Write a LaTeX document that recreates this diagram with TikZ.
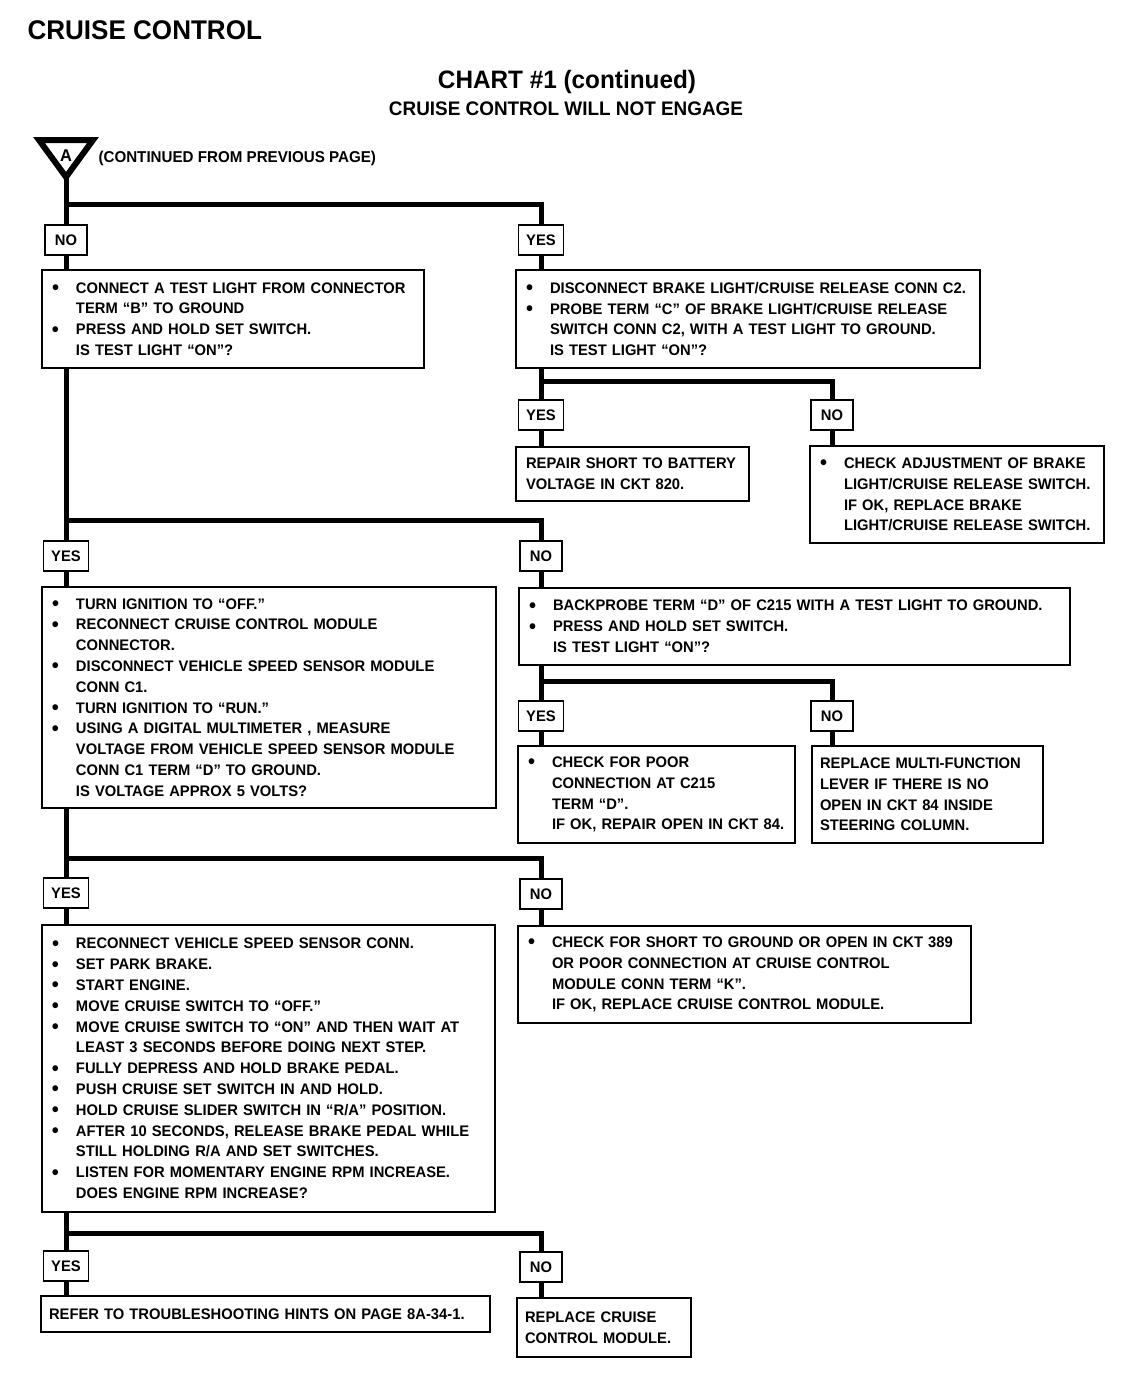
\documentclass[tikz,border=0pt]{standalone}
\usepackage{graphicx}
\usepackage{fontspec}
\setmainfont{Liberation Sans}[FakeStretch=0.965]
\newcommand\bdot{\raisebox{-1.4pt}{\scalebox{1.35}{•}}}
\newcommand\bu[1]{\mbox{\makebox[24pt][l]{\bdot}#1}}
\newcommand\cn[1]{\mbox{\hspace*{24pt}#1}}
\newcommand\pl[1]{\mbox{#1}}
\begin{document}
\begin{tikzpicture}[x=1pt,y=-1pt,
  every node/.style={font=\bfseries\fontsize{15.3}{20.8}\selectfont},
  box/.style={draw, line width=1.6pt, fill=white, inner xsep=10pt, inner ysep=0pt, align=left},
  lab/.style={draw, line width=1.6pt, fill=white, inner sep=0pt, minimum height=30pt},
  yesb/.style={lab, minimum width=45pt},
  nob/.style={lab, minimum width=42pt},
  conn/.style={line width=5pt, line join=miter}]
\useasboundingbox[fill=white] (0,0) rectangle (1136,1392);

% titles
\node[anchor=base west, font=\bfseries\fontsize{27}{30}\selectfont] (title) at (24,39) {CRUISE CONTROL};
\node[anchor=base, font=\bfseries\fontsize{25.2}{28}\selectfont] (chart) at (567,88) {CHART \#1 (continued)};
\node[anchor=base, font=\bfseries\fontsize{19.6}{22}\selectfont] (sub) at (566,115) {CRUISE CONTROL WILL NOT ENGAGE};

% start triangle
\draw[line width=6pt, line join=miter] (39,140) -- (93,140) -- (66,177) -- cycle;
\node[font=\bfseries\fontsize{17}{18}\selectfont] (tri) at (66,156) {A};
\coordinate (apex) at (66,177);
\node[anchor=base west, font=\bfseries\fontsize{15.7}{18}\selectfont] (cont) at (95,162) {(CONTINUED FROM PREVIOUS PAGE)};

% labels
\node[nob]  (no1)  at (66,240) {NO};
\node[yesb] (yes1) at (541,240) {YES};
\node[yesb] (yes3) at (541,415) {YES};
\node[nob]  (no3)  at (832,415) {NO};
\node[yesb] (yes4) at (66,556) {YES};
\node[nob]  (no4)  at (541,556) {NO};
\node[yesb] (yes5) at (541,716) {YES};
\node[nob]  (no5)  at (832,716) {NO};
\node[yesb] (yes6) at (66,893) {YES};
\node[nob]  (no6)  at (541,894) {NO};
\node[yesb] (yes7) at (66,1266) {YES};
\node[nob]  (no7)  at (541,1267) {NO};

% boxes
\node[box, minimum width=382pt, minimum height=98pt, text width=362pt] (b1) at (233,319) {%
\bu{CONNECT A TEST LIGHT FROM CONNECTOR}\\
\cn{TERM “B” TO GROUND}\\
\bu{PRESS AND HOLD SET SWITCH.}\\
\cn{IS TEST LIGHT “ON”?}};

\node[box, minimum width=464pt, minimum height=98pt, text width=444pt] (b2) at (748,319) {%
\bu{DISCONNECT BRAKE LIGHT/CRUISE RELEASE CONN C2.}\\
\bu{PROBE TERM “C” OF BRAKE LIGHT/CRUISE RELEASE}\\
\cn{SWITCH CONN C2, WITH A TEST LIGHT TO GROUND.}\\
\cn{IS TEST LIGHT “ON”?}};

\node[box, minimum width=233pt, minimum height=54pt, text width=213pt] (b3) at (632.5,474) {%
\pl{REPAIR SHORT TO BATTERY}\\
\pl{VOLTAGE IN CKT 820.}};

\node[box, minimum width=294pt, minimum height=97pt, text width=274pt] (b4) at (957,494.5) {%
\bu{CHECK ADJUSTMENT OF BRAKE}\\
\cn{LIGHT/CRUISE RELEASE SWITCH.}\\
\cn{IF OK, REPLACE BRAKE}\\
\cn{LIGHT/CRUISE RELEASE SWITCH.}};

\node[box, minimum width=454pt, minimum height=221pt, text width=434pt] (b5) at (269,697.5) {%
\bu{TURN IGNITION TO “OFF.”}\\
\bu{RECONNECT CRUISE CONTROL MODULE}\\
\cn{CONNECTOR.}\\
\bu{DISCONNECT VEHICLE SPEED SENSOR MODULE}\\
\cn{CONN C1.}\\
\bu{TURN IGNITION TO “RUN.”}\\
\bu{USING A DIGITAL MULTIMETER , MEASURE}\\
\cn{VOLTAGE FROM VEHICLE SPEED SENSOR MODULE}\\
\cn{CONN C1 TERM “D” TO GROUND.}\\
\cn{IS VOLTAGE APPROX 5 VOLTS?}};

\node[box, minimum width=551pt, minimum height=77pt, text width=531pt] (b6) at (794.5,626.5) {%
\bu{BACKPROBE TERM “D” OF C215 WITH A TEST LIGHT TO GROUND.}\\
\bu{PRESS AND HOLD SET SWITCH.}\\
\cn{IS TEST LIGHT “ON”?}};

\node[box, minimum width=277pt, minimum height=97pt, text width=257pt] (b7) at (656.5,794.5) {%
\bu{CHECK FOR POOR}\\
\cn{CONNECTION AT C215}\\
\cn{TERM “D”.}\\
\cn{IF OK, REPAIR OPEN IN CKT 84.}};

\node[box, minimum width=231pt, minimum height=97pt, text width=215pt, inner xsep=8pt] (b8) at (927.5,794.5) {%
\pl{REPLACE MULTI-FUNCTION}\\
\pl{LEVER IF THERE IS NO}\\
\pl{OPEN IN CKT 84 INSIDE}\\
\pl{STEERING COLUMN.}};

\node[box, minimum width=453pt, minimum height=287pt, text width=433pt] (b9) at (268.5,1068.5) {%
\bu{RECONNECT VEHICLE SPEED SENSOR CONN.}\\
\bu{SET PARK BRAKE.}\\
\bu{START ENGINE.}\\
\bu{MOVE CRUISE SWITCH TO “OFF.”}\\
\bu{MOVE CRUISE SWITCH TO “ON” AND THEN WAIT AT}\\
\cn{LEAST 3 SECONDS BEFORE DOING NEXT STEP.}\\
\bu{FULLY DEPRESS AND HOLD BRAKE PEDAL.}\\
\bu{PUSH CRUISE SET SWITCH IN AND HOLD.}\\
\bu{HOLD CRUISE SLIDER SWITCH IN “R/A” POSITION.}\\
\bu{AFTER 10 SECONDS, RELEASE BRAKE PEDAL WHILE}\\
\cn{STILL HOLDING R/A AND SET SWITCHES.}\\
\bu{LISTEN FOR MOMENTARY ENGINE RPM INCREASE.}\\
\cn{DOES ENGINE RPM INCREASE?}};

\node[box, minimum width=453pt, minimum height=97pt, text width=433pt] (b10) at (744.5,974.5) {%
\bu{CHECK FOR SHORT TO GROUND OR OPEN IN CKT 389}\\
\cn{OR POOR CONNECTION AT CRUISE CONTROL}\\
\cn{MODULE CONN TERM “K”.}\\
\cn{IF OK, REPLACE CRUISE CONTROL MODULE.}};

\node[box, minimum width=449pt, minimum height=36pt, text width=433pt, inner xsep=8pt] (b11) at (265.5,1314) {%
\pl{REFER TO TROUBLESHOOTING HINTS ON PAGE 8A-34-1.}};

\node[box, minimum width=174pt, minimum height=59pt, text width=158pt, inner xsep=8pt] (b12) at (604,1327.5) {%
\pl{REPLACE CRUISE}\\
\pl{CONTROL MODULE.}};

% connectors
\coordinate (j1) at (66,204);
\coordinate (j2) at (541,381);
\coordinate (j3) at (66,520);
\coordinate (j4) at (541,681);
\coordinate (j5) at (66,858);
\coordinate (j6) at (66,1233);

\draw[conn] (apex) -- (no1.north);
\draw[conn] (j1) -| (yes1.north);
\draw[conn] (no1.south) -- (no1.south |- b1.north);
\draw[conn] (yes1.south) -- (yes1.south |- b2.north);
\draw[conn] (yes1.south |- b2.south) -- (yes3.north);
\draw[conn] (j2) -| (no3.north);
\draw[conn] (yes3.south) -- (yes3.south |- b3.north);
\draw[conn] (no3.south) -- (no3.south |- b4.north);
\draw[conn] (no1.south |- b1.south) -- (yes4.north);
\draw[conn] (j3) -| (no4.north);
\draw[conn] (yes4.south) -- (yes4.south |- b5.north);
\draw[conn] (no4.south) -- (no4.south |- b6.north);
\draw[conn] (no4.south |- b6.south) -- (yes5.north);
\draw[conn] (j4) -| (no5.north);
\draw[conn] (yes5.south) -- (yes5.south |- b7.north);
\draw[conn] (no5.south) -- (no5.south |- b8.north);
\draw[conn] (yes4.south |- b5.south) -- (yes6.north);
\draw[conn] (j5) -| (no6.north);
\draw[conn] (yes6.south) -- (yes6.south |- b9.north);
\draw[conn] (no6.south) -- (no6.south |- b10.north);
\draw[conn] (yes6.south |- b9.south) -- (yes7.north);
\draw[conn] (j6) -| (no7.north);
\draw[conn] (yes7.south) -- (yes7.south |- b11.north);
\draw[conn] (no7.south) -- (no7.south |- b12.north);
\end{tikzpicture}
\end{document}
